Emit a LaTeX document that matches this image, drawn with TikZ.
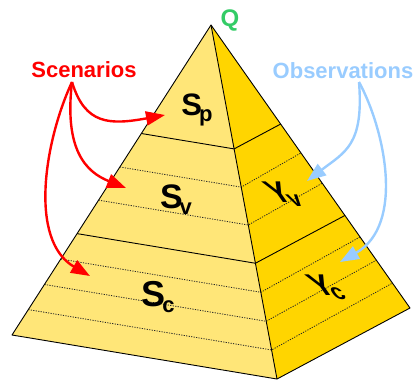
\documentclass[tikz,border=0pt]{standalone}
\usepackage{fontspec}
\setmainfont{Liberation Sans}
\usetikzlibrary{arrows.meta,calc}
\definecolor{facel}{RGB}{255,230,120}
\definecolor{facer}{RGB}{255,213,0}
\definecolor{scred}{RGB}{255,0,0}
\definecolor{obsblue}{RGB}{153,204,255}
\definecolor{qgreen}{RGB}{51,204,102}
\newcommand{\symlab}[5]{{\fontsize{#1}{#1}\selectfont\bfseries #2\kern#4\raisebox{#5}{\fontsize{22}{22}\selectfont #3}}}
\begin{document}
\begin{tikzpicture}[x=1pt,y=-1pt,
  edge/.style={draw=black,line width=0.9pt,line join=round},
  dotline/.style={draw=black!85,line width=0.8pt,dash pattern=on 1.2pt off 1.3pt},
  scarrow/.style={draw=scred,line width=2.4pt,-{Triangle[length=19pt,width=14pt]}},
  obsarrow/.style={draw=obsblue,line width=2.4pt,-{Triangle[length=19pt,width=14pt]}},
  biglabel/.style={font=\fontsize{22}{22}\selectfont\bfseries,inner sep=0pt},
  sym/.style={inner sep=0pt,transform shape}]
\useasboundingbox (0,0) rectangle (415,381);
\coordinate (A) at (211,25);
\coordinate (L) at (12,335);
\coordinate (F) at (277,379);
\coordinate (R) at (410,308);
\fill[facel] (A) -- (L) -- (F) -- cycle;
\fill[facer] (A) -- (F) -- (R) -- cycle;
\foreach \t [count=\i] in {0.458,0.565,0.755,0.837,0.918}{
  \coordinate (dl\i) at ($(A)!\t!(L)$);
  \coordinate (df\i) at ($(A)!\t!(F)$);
  \coordinate (dr\i) at ($(A)!\t-0.006!(R)$);
  \draw[dotline] (dl\i) -- (df\i) -- (dr\i);
}
\foreach \t [count=\i] in {0.35,0.673}{
  \coordinate (bl\i) at ($(A)!\t!(L)$);
  \coordinate (bf\i) at ($(A)!\t!(F)$);
  \coordinate (br\i) at ($(A)!\t!(R)$);
  \draw[edge] (bl\i) -- (bf\i) -- (br\i);
}
\draw[edge] (A) -- (L) -- (F) -- (R) -- cycle;
\draw[edge] (A) -- (F);
% symbols
\node[sym] (sp) at (197,110) {\symlab{31}{S}{p}{-3pt}{-6pt}};
\node[sym] (sv) at (176,200) {\symlab{34}{S}{v}{-3pt}{-6pt}};
\node[sym] (sc) at (158,297) {\symlab{36}{S}{c}{-3pt}{-6pt}};
\begin{scope}[shift={(283,194)},cm={1,0,-0.7,1,(0,0)}]
  \node[sym] (yv) at (0,0) {\symlab{30}{Y}{v}{-5pt}{-4pt}};
\end{scope}
\begin{scope}[shift={(326,287)},cm={1,0,-0.7,1,(0,0)}]
  \node[sym] (yc) at (0,0) {\symlab{30}{Y}{c}{-5pt}{-4pt}};
\end{scope}
% labels
\node[biglabel,text=scred,anchor=base] (scen) at (84,77) {Scenarios};
\node[biglabel,text=obsblue,anchor=base] (obs) at (343,78) {Observations};
\node[font=\fontsize{24}{24}\selectfont\bfseries,text=qgreen,inner sep=0pt,anchor=base] (q) at (230,26) {Q};
% arrows
\coordinate (sc0) at (72,82);
\coordinate (st1) at (165,115);
\coordinate (st2) at (126,188);
\coordinate (st3) at (90,276);
\draw[scarrow] (sc0) .. controls (85,125) and (110,125) .. (st1);
\draw[scarrow] (sc0) .. controls (64,150) and (86,172) .. (st2);
\draw[scarrow] (sc0) .. controls (45,140) and (28,240) .. (st3);
\coordinate (ob0) at (359,82);
\coordinate (ot1) at (307,181);
\coordinate (ot2) at (340,262);
\draw[obsarrow] (ob0) .. controls (364,145) and (345,152) .. (ot1);
\draw[obsarrow] (ob0) .. controls (385,130) and (405,225) .. (ot2);
\end{tikzpicture}
\end{document}
